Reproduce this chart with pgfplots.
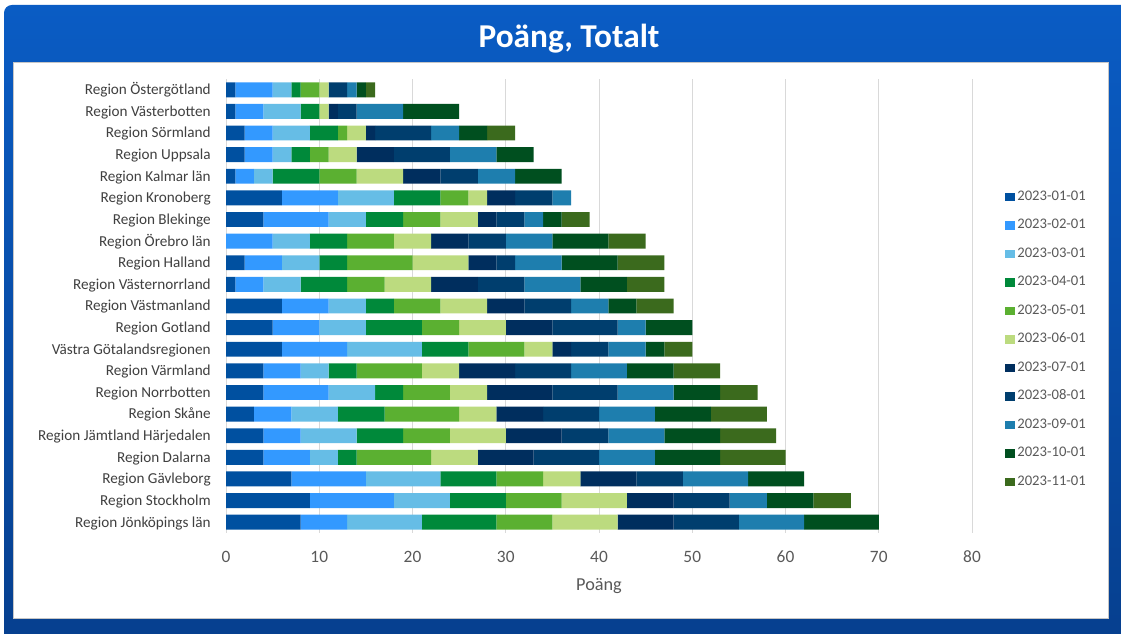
\documentclass[border=0pt]{standalone}
\usepackage{pgfplots}
\pgfplotsset{compat=1.18}
\usepackage{pgfplotstable}
\usepackage{fontspec}
\setmainfont{Carlito}
\definecolor{c1}{HTML}{0050A0}
\definecolor{c2}{HTML}{3399FF}
\definecolor{c3}{HTML}{66BDE6}
\definecolor{c4}{HTML}{00893A}
\definecolor{c5}{HTML}{5BB031}
\definecolor{c6}{HTML}{BCDB7F}
\definecolor{c7}{HTML}{002E5E}
\definecolor{c8}{HTML}{003E6E}
\definecolor{c9}{HTML}{1E7EAE}
\definecolor{c10}{HTML}{004F1F}
\definecolor{c11}{HTML}{3B6A1D}
\definecolor{frameTop}{HTML}{0A5CC4}
\definecolor{frameBot}{HTML}{063F8E}
\definecolor{gridc}{HTML}{D9D9D9}
\definecolor{txt}{HTML}{595959}
\definecolor{cat}{HTML}{404040}

\pgfplotstableread{
y a b c d e f g h i j k
0 8 5 8 8 6 7 6 7 7 8 0
1 9 9 6 6 6 7 5 6 4 5 4
2 7 8 8 6 5 4 6 5 7 6 0
3 4 5 3 2 8 5 6 7 6 7 7
4 4 4 6 5 5 6 6 5 6 6 6
5 3 4 5 5 8 4 5 6 6 6 6
6 4 7 5 3 5 4 7 7 6 5 4
7 4 4 3 3 7 4 6 6 6 5 5
8 6 7 8 5 6 3 2 4 4 2 3
9 5 5 5 6 4 5 5 7 3 5 0
10 6 5 4 3 5 5 4 5 4 3 4
11 1 3 4 5 4 5 5 5 6 5 4
12 2 4 4 3 7 6 3 2 5 6 5
13 0 5 4 4 5 4 4 4 5 6 4
14 4 7 4 4 4 4 2 3 2 2 3
15 6 6 6 5 3 2 3 4 2 0 0
16 1 2 2 5 4 5 4 4 4 5 0
17 2 3 2 2 2 3 4 6 5 4 0
18 2 3 4 3 1 2 1 6 3 3 3
19 1 3 4 2 0 1 1 2 5 6 0
20 1 4 2 1 2 1 0 2 1 1 1
}\data

\begin{document}
\begin{tikzpicture}
\useasboundingbox (0,0) rectangle (840.75pt,475.5pt);
\fill[white] (0,0) rectangle (840.75pt,475.5pt);
\begin{scope}
\clip (0,0) rectangle (840.75pt,475.5pt);
\shade[top color=frameTop, bottom color=frameBot, rounded corners=6pt] (3pt,-10pt) rectangle (850pt,471.75pt);
\end{scope}
\fill[white] (9.75pt,12pt) rectangle (831pt,429pt);
\draw[gray!45, line width=0.4pt] (9.75pt,12pt) rectangle (831pt,429pt);
\node[text=white, anchor=base, font=\bfseries\fontsize{25}{30}\selectfont] at (426.75pt,439.5pt) {Poäng, Totalt};
\begin{axis}[
  at={(169.5pt,75.75pt)}, anchor=south west,
  scale only axis, width=559.5pt, height=340.5pt,
  xbar stacked, bar width=0.69,
  xmin=0, xmax=80, ymin=-0.5, ymax=20.5,
  enlargelimits=false,
  xtick={0,10,...,80},
  ytick={0,...,20},
  yticklabels={Region Jönköpings län, Region Stockholm, Region Gävleborg, Region Dalarna, Region Jämtland Härjedalen, Region Skåne, Region Norrbotten, Region Värmland, Västra Götalandsregionen, Region Gotland, Region Västmanland, Region Västernorrland, Region Halland, Region Örebro län, Region Blekinge, Region Kronoberg, Region Kalmar län, Region Uppsala, Region Sörmland, Region Västerbotten, Region Östergötland},
  /pgf/number format/assume math mode=true,
  xmajorgrids, grid style={draw=gridc, line width=0.75pt},
  axis line style={draw=none}, tick style={draw=none}, major tick length=0pt,
  xticklabel style={font=\fontsize{13}{15}\selectfont, text=txt, anchor=base, yshift=-22.5pt},
  yticklabel style={font=\fontsize{11.4}{13}\selectfont, text=cat, anchor=east, inner xsep=0pt, xshift=-11.25pt, text height=8.5pt, text depth=1.2pt},
  xlabel={Poäng},
  xlabel style={font=\fontsize{13.7}{16}\selectfont, text=txt, at={(axis description cs:0.5,0)}, anchor=base, yshift=-43.5pt},
  legend style={draw=none, fill=none, at={(1.039,0.766)}, anchor=north west, row sep=8.4pt, column sep=0pt, inner xsep=3pt, inner ysep=2pt,
    font=\fontsize{11}{13}\selectfont, text=txt, nodes={inner sep=2pt, text height=7pt, text depth=2pt}},
  legend cell align=left,
  legend image code/.code={\fill[#1] (0pt,-3.2pt) rectangle (7pt,3.2pt);},
  every axis plot/.append style={draw=none},
]
\addplot[fill=c1, draw=none] table[x=a, y=y] {\data};
\addplot[fill=c2, draw=none] table[x=b, y=y] {\data};
\addplot[fill=c3, draw=none] table[x=c, y=y] {\data};
\addplot[fill=c4, draw=none] table[x=d, y=y] {\data};
\addplot[fill=c5, draw=none] table[x=e, y=y] {\data};
\addplot[fill=c6, draw=none] table[x=f, y=y] {\data};
\addplot[fill=c7, draw=none] table[x=g, y=y] {\data};
\addplot[fill=c8, draw=none] table[x=h, y=y] {\data};
\addplot[fill=c9, draw=none] table[x=i, y=y] {\data};
\addplot[fill=c10, draw=none] table[x=j, y=y] {\data};
\addplot[fill=c11, draw=none] table[x=k, y=y] {\data};
\legend{2023-01-01,2023-02-01,2023-03-01,2023-04-01,2023-05-01,2023-06-01,2023-07-01,2023-08-01,2023-09-01,2023-10-01,2023-11-01}
\end{axis}
\end{tikzpicture}
\end{document}
